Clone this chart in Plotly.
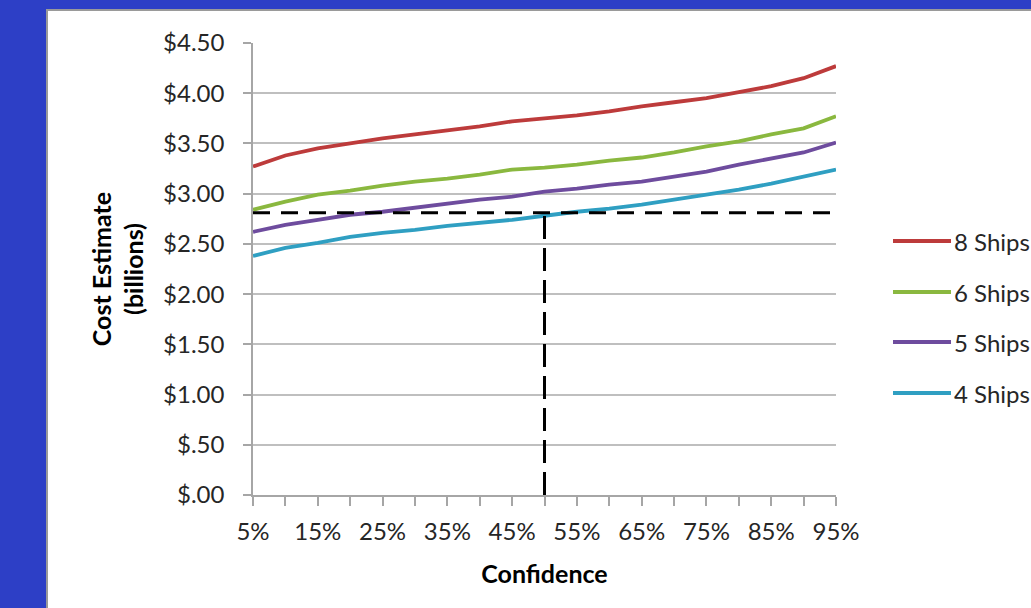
import plotly.graph_objects as go

# Confidence levels (x categories)
confidence = ["5%", "10%", "15%", "20%", "25%", "30%", "35%", "40%", "45%", "50%",
              "55%", "60%", "65%", "70%", "75%", "80%", "85%", "90%", "95%"]

# Cost estimates in $ billions per fleet size
ships_8 = [3.27, 3.38, 3.45, 3.50, 3.55, 3.59, 3.63, 3.67, 3.72, 3.75,
           3.78, 3.82, 3.87, 3.91, 3.95, 4.01, 4.07, 4.15, 4.27]
ships_6 = [2.84, 2.92, 2.99, 3.03, 3.08, 3.12, 3.15, 3.19, 3.24, 3.26,
           3.29, 3.33, 3.36, 3.41, 3.47, 3.52, 3.59, 3.65, 3.77]
ships_5 = [2.62, 2.69, 2.74, 2.79, 2.82, 2.86, 2.90, 2.94, 2.97, 3.02,
           3.05, 3.09, 3.12, 3.17, 3.22, 3.29, 3.35, 3.41, 3.51]
ships_4 = [2.38, 2.46, 2.51, 2.57, 2.61, 2.64, 2.68, 2.71, 2.74, 2.78,
           2.82, 2.85, 2.89, 2.94, 2.99, 3.04, 3.10, 3.17, 3.24]

series_names = ["8 Ships", "6 Ships", "5 Ships", "4 Ships"]
series_values = [ships_8, ships_6, ships_5, ships_4]
series_colors = ["#BD3B3B", "#8AB83F", "#6E4C9E", "#2F9FC2"]

# Budget reference: cost level and the confidence it is read at
budget_level = 2.81
budget_confidence = "50%"

y_tickvals = [0, 0.5, 1.0, 1.5, 2.0, 2.5, 3.0, 3.5, 4.0, 4.5]
y_ticktext = ["$.00", "$.50", "$1.00", "$1.50", "$2.00", "$2.50",
              "$3.00", "$3.50", "$4.00", "$4.50"]
x_ticktext = [c if i % 2 == 0 else "" for i, c in enumerate(confidence)]

FONT = "Lato"
W, H = 1031, 608
M_L, M_R, M_T, M_B = 253, 195, 43, 113
PW, PH = W - M_L - M_R, H - M_T - M_B


def px_x(px):
    return (px - M_L) / PW


def px_y(py):
    return (H - M_B - py) / PH


fig = go.Figure()

for name, vals, col in zip(series_names[::-1], series_values[::-1], series_colors[::-1]):
    fig.add_trace(go.Scatter(
        x=confidence, y=vals, mode="lines", name=name,
        line=dict(color=col, width=3.8), showlegend=False,
    ))

# Dashed budget guide lines
fig.add_trace(go.Scatter(
    x=[confidence[0], confidence[-1]], y=[budget_level, budget_level],
    mode="lines", line=dict(color="black", width=3, dash="17px,11px"),
    showlegend=False,
))
fig.add_trace(go.Scatter(
    x=[budget_confidence, budget_confidence], y=[0, budget_level],
    mode="lines", line=dict(color="black", width=3, dash="23px,9px"),
    showlegend=False,
))

shapes = [
    # white slide panel on the blue background
    dict(type="rect", xref="paper", yref="paper", layer="below",
         x0=px_x(47), x1=px_x(1040), y0=px_y(10), y1=px_y(620),
         fillcolor="white", line=dict(color="#9A9A9A", width=2)),
]
annotations = []

# Legend drawn beside the plot
legend_y = [241, 292, 342, 393]
for name, col, ly in zip(series_names, series_colors, legend_y):
    shapes.append(dict(type="line", xref="paper", yref="paper",
                       x0=px_x(893), x1=px_x(951), y0=px_y(ly), y1=px_y(ly),
                       line=dict(color=col, width=3.8)))
    annotations.append(dict(xref="paper", yref="paper", x=px_x(952), y=px_y(ly),
                            xanchor="left", yanchor="middle", text=name, showarrow=False,
                            font=dict(family=FONT, size=24, color="#262626")))

fig.update_layout(
    width=W, height=H,
    margin=dict(l=M_L, r=M_R, t=M_T, b=M_B, autoexpand=False),
    paper_bgcolor="#2D3FC6",
    plot_bgcolor="white",
    font=dict(family=FONT, size=24, color="#262626"),
    shapes=shapes,
    annotations=annotations,
    showlegend=False,
)

fig.update_xaxes(
    type="category", range=[0, len(confidence) - 1],
    tickvals=confidence, ticktext=x_ticktext,
    ticks="outside", ticklen=9, tickwidth=1.5, tickcolor="#A6A6A6",
    showline=True, linecolor="#A6A6A6", linewidth=1.5,
    showgrid=False, zeroline=False,
    tickfont=dict(family=FONT, size=24, color="#262626"),
    ticklabelstandoff=5,
    title=dict(text="<b>Confidence</b>", font=dict(family=FONT, size=25, color="black"),
               standoff=22),
)

fig.update_yaxes(
    range=[0, 4.5], tickvals=y_tickvals, ticktext=y_ticktext,
    ticks="outside", ticklen=8, tickwidth=1.5, tickcolor="#A6A6A6",
    showline=True, linecolor="#A6A6A6", linewidth=1.5,
    showgrid=True, gridcolor="#BFBFBF", gridwidth=1.5, zeroline=False,
    tickfont=dict(family=FONT, size=24, color="#262626"),
    ticklabelstandoff=14,
    title=dict(text="<b>Cost Estimate<br>(billions)</b>",
               font=dict(family=FONT, size=25, color="black"), standoff=12),
)

fig.write_html("out.html")
